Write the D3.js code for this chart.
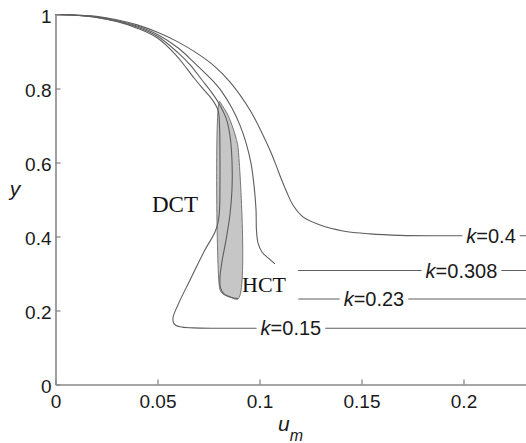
<!DOCTYPE html>
<html>
<head>
<meta charset="utf-8">
<script src="https://cdn.jsdelivr.net/npm/d3@7"></script>
<style>
html, body { margin: 0; padding: 0; background: #fff; }
svg { display: block; }
</style>
</head>
<body>
<svg width="526" height="443"></svg>
<script>
const svg = d3.select("svg");
const width = +svg.attr("width");
const height = +svg.attr("height");

// ticks
const xTicks = [0, 0.05, 0.1, 0.15, 0.2];
const yTicks = [0, 0.2, 0.4, 0.6, 0.8, 1];

// curves as [u_m, y] pairs, null breaks the line
const curveK015 = [[0,1],[0.01,0.998],[0.02,0.992],[0.03,0.981],[0.04,0.963],[0.0498,0.937],[0.0586,0.893],
  [0.0645,0.853],[0.0684,0.825],[0.0733,0.793],[0.0772,0.767],[0.0797,0.741],[0.0804,0.701],[0.0806,0.634],
  [0.0806,0.526],[0.0804,0.472],[0.0797,0.439],[0.0782,0.412],[0.0733,0.364],[0.0659,0.282],[0.0600,0.215],
  [0.0576,0.180],[0.0581,0.164],[0.0610,0.156],[0.0674,0.153],[0.0792,0.152],[0.10,0.152],[0.15,0.152],[0.25,0.152]];
const curveK023 = [[0,1],[0.01,0.998],[0.02,0.993],[0.03,0.982],[0.04,0.966],[0.05,0.941],[0.06,0.897],
  [0.066,0.864],[0.0718,0.823],[0.0767,0.788],[0.0806,0.755],[0.0836,0.720],[0.0855,0.674],[0.0865,0.607],
  [0.0865,0.526],[0.0855,0.458],[0.0836,0.391],[0.0816,0.332],[0.0806,0.288],[0.0809,0.261],[0.0826,0.245],
  [0.0860,0.236],[0.0895,0.232], null, [0.119,0.231],[0.25,0.231]];
const curveK0308 = [[0,1],[0.01,0.998],[0.02,0.994],[0.03,0.984],[0.04,0.969],[0.05,0.946],[0.06,0.910],
  [0.068,0.870],[0.0767,0.823],[0.0816,0.791],[0.0865,0.747],[0.0904,0.701],[0.0934,0.653],[0.0958,0.599],
  [0.0973,0.539],[0.0983,0.472],[0.0985,0.418],[0.0993,0.382],[0.1012,0.358],[0.1042,0.342],[0.1076,0.326],
  null, [0.1189,0.308],[0.25,0.308]];
const curveK04 = [[0,1],[0.01,0.9985],[0.02,0.995],[0.03,0.986],[0.04,0.972],[0.05,0.952],[0.06,0.926],
  [0.07,0.893],[0.078,0.860],[0.0855,0.818],[0.0953,0.742],[0.1012,0.680],[0.1051,0.634],[0.1081,0.593],
  [0.1105,0.558],[0.1135,0.518],[0.1164,0.485],[0.1213,0.453],[0.1297,0.431],[0.1409,0.415],[0.1542,0.407],
  [0.1689,0.403],[0.19,0.402],[0.25,0.402]];

// grey band between DCT and HCT
const bandDCTHCT = [[0.0804,0.765],[0.0804,0.262],[0.0812,0.250],[0.0826,0.243],[0.0860,0.235],[0.0896,0.232],
  [0.0896,0.634],[0.0885,0.666],[0.0865,0.701],[0.0840,0.734],[0.0816,0.755]];

// line labels
const kNames = ["0.15", "0.23", "0.308", "0.4"];
const kLabelU = [0.1154, 0.1561, 0.199, 0.2135];
const kLabelY = [0.152, 0.231, 0.308, 0.403];

const x = d3.scaleLinear().domain([0, 0.25]).range([55.5, 565.5]);
const y = d3.scaleLinear().domain([0, 1]).range([384.5, 14.5]);

const line = d3.line()
  .defined(d => d !== null)
  .x(d => x(d[0]))
  .y(d => y(d[1]))
  .curve(d3.curveCatmullRom.alpha(0.5));

// shaded band
svg.append("path")
  .datum(bandDCTHCT)
  .attr("d", d3.line().x(d => x(d[0])).y(d => y(d[1])).curve(d3.curveCatmullRomClosed.alpha(0.5)))
  .style("fill", "#c6c6c6")
  .style("stroke", "#777")
  .style("stroke-width", 1);

// curves
svg.selectAll("path.curva")
  .data([curveK015, curveK023, curveK0308, curveK04])
  .enter().append("path")
  .attr("class", "curva")
  .attr("d", line)
  .style("fill", "none")
  .style("stroke", "#5e5e5e")
  .style("stroke-width", 1.1);

// axes
const ejeX = svg.append("g")
  .attr("transform", `translate(0,${y(0)})`)
  .call(d3.axisBottom(x).tickValues(xTicks).tickFormat(d => String(d))
    .tickSizeInner(-5).tickSizeOuter(0).tickPadding(10));
const ejeY = svg.append("g")
  .attr("transform", `translate(${x(0)},0)`)
  .call(d3.axisLeft(y).tickValues(yTicks).tickFormat(d => String(d))
    .tickSizeInner(-5).tickSizeOuter(0).tickPadding(4));

[ejeX, ejeY].forEach(g => {
  g.select(".domain").style("stroke", "#888").style("stroke-width", 1.6);
  g.selectAll(".tick line").style("stroke", "#888").style("stroke-width", 1.3);
  g.selectAll(".tick text")
    .style("font-family", "Arial, 'Liberation Sans', sans-serif")
    .style("font-size", "19px")
    .style("fill", "#1a1a1a");
});
ejeY.selectAll(".tick text").attr("dy", "0.4em");

// axis titles
svg.append("text")
  .attr("x", 15).attr("y", 196)
  .attr("text-anchor", "middle")
  .style("font-family", "Arial, 'Liberation Sans', sans-serif")
  .style("font-style", "italic")
  .style("font-size", "21px")
  .style("fill", "#1a1a1a")
  .text("y");

const tituloX = svg.append("text")
  .attr("x", 278).attr("y", 431)
  .style("font-family", "Arial, 'Liberation Sans', sans-serif")
  .style("font-style", "italic")
  .style("font-size", "21px")
  .style("fill", "#1a1a1a");
tituloX.append("tspan").text("u");
tituloX.append("tspan").attr("dy", 10).style("font-size", "16px").text("m");

// k labels sitting on the lines
kNames.forEach((k, i) => {
  const g = svg.append("g");
  const fondo = g.append("rect").style("fill", "#fff");
  const t = g.append("text")
    .attr("x", x(kLabelU[i]))
    .attr("y", y(kLabelY[i]))
    .attr("dy", "0.36em")
    .attr("text-anchor", "middle")
    .style("font-family", "Arial, 'Liberation Sans', sans-serif")
    .style("font-size", "20px")
    .style("fill", "#1a1a1a");
  t.append("tspan").style("font-style", "italic").text("k");
  t.append("tspan").text("=" + k);
  const b = t.node().getBBox();
  fondo.attr("x", b.x - 4).attr("y", b.y).attr("width", b.width + 8).attr("height", b.height);
});

// region names
svg.append("text")
  .attr("x", 152).attr("y", 212)
  .style("font-family", "'Times New Roman', 'Liberation Serif', serif")
  .style("font-size", "23px")
  .style("fill", "#111")
  .text("DCT");
svg.append("text")
  .attr("x", 242).attr("y", 292)
  .style("font-family", "'Times New Roman', 'Liberation Serif', serif")
  .style("font-size", "22px")
  .style("fill", "#111")
  .text("HCT");
</script>
</body>
</html>
